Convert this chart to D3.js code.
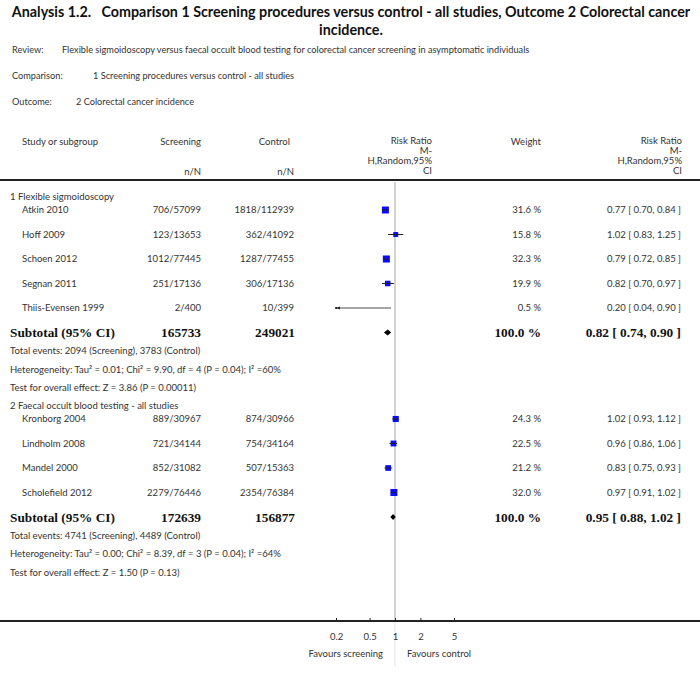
<!DOCTYPE html>
<html>
<head>
<meta charset="utf-8">
<script src="https://cdn.jsdelivr.net/npm/d3@7"></script>
<style>
  body { margin: 0; background: #fff; }
  svg { font-family: Lato, "Open Sans", sans-serif; }
</style>
</head>
<body>
<svg id="chart" width="700" height="679"></svg>
<script>
// ---- data ----
const groupTitles = ["1 Flexible sigmoidoscopy", "2 Faecal occult blood testing - all studies"];
const studies1 = ["Atkin 2010", "Hoff 2009", "Schoen 2012", "Segnan 2011", "Thiis-Evensen 1999"];
const screen1 = ["706/57099", "123/13653", "1012/77445", "251/17136", "2/400"];
const control1 = ["1818/112939", "362/41092", "1287/77455", "306/17136", "10/399"];
const weight1 = [31.6, 15.8, 32.3, 19.9, 0.5];
const rr1 = [0.77, 1.02, 0.79, 0.82, 0.20];
const lo1 = [0.70, 0.83, 0.72, 0.70, 0.04];
const hi1 = [0.84, 1.25, 0.85, 0.97, 0.90];

const studies2 = ["Kronborg 2004", "Lindholm 2008", "Mandel 2000", "Scholefield 2012"];
const screen2 = ["889/30967", "721/34144", "852/31082", "2279/76446"];
const control2 = ["874/30966", "754/34164", "507/15363", "2354/76384"];
const weight2 = [24.3, 22.5, 21.2, 32.0];
const rr2 = [1.02, 0.96, 0.83, 0.97];
const lo2 = [0.93, 0.86, 0.75, 0.91];
const hi2 = [1.12, 1.06, 0.93, 1.02];

const subTotalN = [["165733", "249021"], ["172639", "156877"]];
const subRR = [0.82, 0.95];
const subLo = [0.74, 0.88];
const subHi = [0.90, 1.02];
const totalEvents = [
  "Total events: 2094 (Screening), 3783 (Control)",
  "Total events: 4741 (Screening), 4489 (Control)"
];
const heterogeneity = [
  "Heterogeneity: Tau\u00B2 = 0.01; Chi\u00B2 = 9.90, df = 4 (P = 0.04); I\u00B2 =60%",
  "Heterogeneity: Tau\u00B2 = 0.00; Chi\u00B2 = 8.39, df = 3 (P = 0.04); I\u00B2 =64%"
];
const overallTest = [
  "Test for overall effect: Z = 3.86 (P = 0.00011)",
  "Test for overall effect: Z = 1.50 (P = 0.13)"
];
const tickValues = [0.2, 0.5, 1, 2, 5];

const groups = [
  { names: studies1, s: screen1, c: control1, w: weight1, rr: rr1, lo: lo1, hi: hi1 },
  { names: studies2, s: screen2, c: control2, w: weight2, rr: rr2, lo: lo2, hi: hi2 }
];

// ---- layout ----
const svg = d3.select("#chart");
const textCol = "#333";
const serif = "'Liberation Serif', 'DejaVu Serif', serif";

const x = d3.scaleLog().domain([0.2, 5]).range([336, 454]);
const sizeScale = d3.scaleSqrt().domain([0, 32]).range([0, 7]);

function txt(xp, yp, s, opts) {
  opts = opts || {};
  return svg.append("text")
    .attr("x", xp).attr("y", yp)
    .attr("dy", "0.35em")
    .attr("text-anchor", opts.anchor || "start")
    .style("font-size", (opts.size || 9.5) + "px")
    .style("font-weight", opts.bold ? "bold" : null)
    .style("font-family", opts.family || null)
    .attr("fill", opts.fill || textCol)
    .text(s);
}

// title
txt(351, 12, "Analysis 1.2.   Comparison 1 Screening procedures versus control - all studies, Outcome 2 Colorectal cancer",
  { anchor: "middle", size: 14.3, bold: true, fill: "#111" }).attr("xml:space", "preserve");
txt(351, 30, "incidence.", { anchor: "middle", size: 14.3, bold: true, fill: "#111" });

txt(12, 50, "Review:", { size: 9.2 });
txt(62, 50, "Flexible sigmoidoscopy versus faecal occult blood testing for colorectal cancer screening in asymptomatic individuals", { size: 9.2 });
txt(12, 76, "Comparison:", { size: 9.2 });
txt(93, 76, "1 Screening procedures versus control - all studies", { size: 9.2 });
txt(12, 102, "Outcome:", { size: 9.2 });
txt(76, 102, "2 Colorectal cancer incidence", { size: 9.2 });

// header
txt(22, 142, "Study or subgroup");
txt(201, 142, "Screening", { anchor: "end" });
txt(290, 142, "Control", { anchor: "end" });
txt(201, 172, "n/N", { anchor: "end" });
txt(294, 172, "n/N", { anchor: "end" });
["Risk Ratio", "M-", "H,Random,95%", "CI"].forEach((s, i) => {
  txt(432, 141 + i * 10, s, { anchor: "end" });
  txt(682, 141 + i * 10, s, { anchor: "end" });
});
txt(541, 142, "Weight", { anchor: "end" });

svg.append("line").attr("x1", 0).attr("x2", 700).attr("y1", 180).attr("y2", 180)
  .attr("stroke", "#222").attr("stroke-width", 2);

// reference line at RR = 1
svg.append("line").attr("x1", x(1)).attr("x2", x(1)).attr("y1", 182).attr("y2", 621)
  .attr("stroke", "#c4c4c4").attr("stroke-width", 1.5);
svg.append("line").attr("x1", x(1)).attr("x2", x(1)).attr("y1", 622).attr("y2", 667)
  .attr("stroke", "#eeeeee").attr("stroke-width", 1.5);

const fmt = d3.format(".2f");
let y = 197;
groups.forEach((g, gi) => {
  txt(10, y, groupTitles[gi]);
  y += 13;
  g.names.forEach((name, i) => {
    txt(22, y, name);
    txt(201, y, g.s[i], { anchor: "end" });
    txt(294, y, g.c[i], { anchor: "end" });
    txt(541, y, g.w[i].toFixed(1) + " %", { anchor: "end" });
    txt(681, y, fmt(g.rr[i]) + " [ " + fmt(g.lo[i]) + ", " + fmt(g.hi[i]) + " ]", { anchor: "end" });

    const loC = Math.max(g.lo[i], x.domain()[0]);
    const hiC = Math.min(g.hi[i], x.domain()[1]);
    const side = Math.max(sizeScale(g.w[i]), 1.5);
    if (g.w[i] >= 1) {
      svg.append("rect")
        .attr("x", x(g.rr[i]) - side / 2).attr("y", y - side / 2)
        .attr("width", side).attr("height", side)
        .attr("fill", "#0a0aff");
      svg.append("line")
        .attr("x1", x(loC)).attr("x2", x(hiC)).attr("y1", y).attr("y2", y)
        .attr("stroke", "#222").attr("stroke-width", 1);
    } else {
      svg.append("line")
        .attr("x1", x(loC)).attr("x2", x(hiC)).attr("y1", y).attr("y2", y)
        .attr("stroke", "#888").attr("stroke-width", 1.5);
      // arrow when the interval runs off the scale
      if (g.lo[i] < x.domain()[0]) {
        svg.append("path")
          .attr("d", d3.line()([[x(loC) + 4, y - 1.5], [x(loC), y], [x(loC) + 4, y + 1.5]]))
          .attr("fill", "#222");
      }
      svg.append("circle").attr("cx", x(g.rr[i])).attr("cy", y).attr("r", 1).attr("fill", "#111");
    }
    y += 24.5;
  });
  // subtotal
  const bold = { size: 13.3, bold: true, family: serif, fill: "#111" };
  txt(10, y, "Subtotal (95% CI)", bold);
  txt(201, y, subTotalN[gi][0], Object.assign({ anchor: "end" }, bold));
  txt(295, y, subTotalN[gi][1], Object.assign({ anchor: "end" }, bold));
  txt(541, y, "100.0 %", Object.assign({ anchor: "end" }, bold));
  txt(681, y, fmt(subRR[gi]) + " [ " + fmt(subLo[gi]) + ", " + fmt(subHi[gi]) + " ]",
    Object.assign({ anchor: "end" }, bold));
  svg.append("path")
    .attr("d", d3.line()([[x(subLo[gi]), y], [x(subRR[gi]), y - 3], [x(subHi[gi]), y], [x(subRR[gi]), y + 3]]) + "Z")
    .attr("fill", "#000");
  y += 18.5;
  txt(10, y, totalEvents[gi]);
  y += 18.5;
  txt(10, y, heterogeneity[gi]);
  y += 18.5;
  txt(10, y, overallTest[gi]);
  y += 18;
});

// axis
svg.append("line").attr("x1", 0).attr("x2", 700).attr("y1", 621).attr("y2", 621)
  .attr("stroke", "#222").attr("stroke-width", 2);
const axis = svg.append("g")
  .attr("transform", "translate(0,621)")
  .call(d3.axisBottom(x).tickValues(tickValues).tickSize(-3).tickPadding(12)
    .tickFormat(d3.format("~g")));
axis.select(".domain").remove();
axis.selectAll(".tick line").attr("stroke", "#222");
axis.selectAll(".tick text").style("font-size", "9.5px").style("font-family", "Lato, sans-serif").attr("fill", textCol);

txt(383, 654, "Favours screening", { anchor: "end" });
txt(407, 654, "Favours control");
</script>
</body>
</html>
